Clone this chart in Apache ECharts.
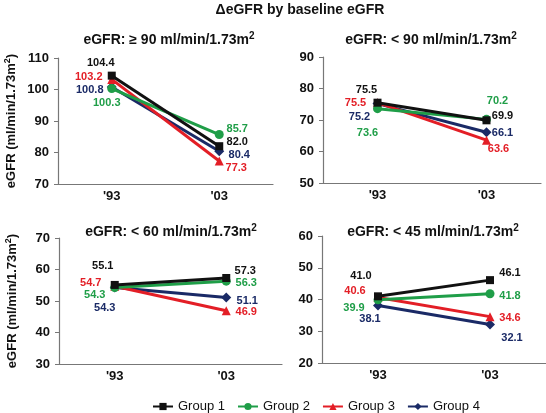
<!DOCTYPE html>
<html><head><meta charset="utf-8">
<script src="https://cdn.jsdelivr.net/npm/echarts@6/dist/echarts.min.js"></script>
<style>html,body{margin:0;padding:0;background:#fff}#c{width:546px;height:413px}</style>
</head><body><div id="c"></div>
<script>
const categories = ["'93", "'03"];
const groups = ['Group 1', 'Group 2', 'Group 3', 'Group 4'];
const panelTitles = ['eGFR: \u2265 90 ml/min/1.73m', 'eGFR: < 90 ml/min/1.73m', 'eGFR: < 60 ml/min/1.73m', 'eGFR: < 45 ml/min/1.73m'];
const unitSup = '2';
const yMins = [70, 50, 30, 20];
const yMaxs = [110, 90, 70, 60];
const yInterval = 10;
// values per panel: [group1, group2, group3, group4], each ['93, '03]
const panelGe90 = [[104.4, 82.0], [100.3, 85.7], [103.2, 77.3], [100.8, 80.4]];
const panelLt90 = [[75.5, 69.9], [73.6, 70.2], [75.5, 63.6], [75.2, 66.1]];
const panelLt60 = [[55.1, 57.3], [54.3, 56.3], [54.7, 46.9], [54.3, 51.1]];
const panelLt45 = [[41.0, 46.1], [39.9, 41.8], [40.6, 34.6], [38.1, 32.1]];
const panels = [panelGe90, panelLt90, panelLt60, panelLt45];

// layout / style (not data)
const colors = ['#111111', '#1f9e48', '#e31e26', '#1a2a66'];
const symbols = ['rect', 'circle', 'triangle', 'diamond'];
const symbolSizes = [8, 9, 9, 10];
const grids = [
  {left: 58, top: 58, width: 215, height: 126},
  {left: 323, top: 57, width: 218, height: 126},
  {left: 59, top: 238, width: 223, height: 126},
  {left: 322, top: 236, width: 224, height: 127}
];
const titlePos = [[169, 40], [431, 40], [171, 232], [433, 232]];
const labelOffsets = [
  [[[-11,-13],[18,-4]], [[-5,14],[18,-6]], [[-23,-2],[17,7]], [[-22,3],[20,4]]],
  [[[-11,-13],[16,-4]], [[-10,24],[11,-18]], [[-22,0],[12,9]], [[-18,13],[16,1]]],
  [[[-12,-19],[19,-7]], [[-20,8],[20,2]], [[-24,-3],[20,1]], [[-10,21],[21,3]]],
  [[[-17,-20],[20,-7]], [[-24,8],[20,2]], [[-23,-7],[20,1]], [[-8,13],[22,13]]]
];

const chart = echarts.init(document.getElementById('c'), null, {renderer: 'canvas'});
const font = 'Liberation Sans, Arial, Helvetica, sans-serif';
const axisColor = '#777';
const richTitle = {
  t: {fontSize: 14, fontWeight: 'bold', color: '#111', fontFamily: font, lineHeight: 18},
  s: {fontSize: 10, fontWeight: 'bold', color: '#111', fontFamily: font, verticalAlign: 'top', lineHeight: 18, padding: [0, 0, 6, 0]}
};

const option = {
  backgroundColor: '#fff',
  animation: false,
  textStyle: {fontFamily: font},
  title: [{
    text: '\u0394eGFR by baseline eGFR', left: 295, top: -2, textAlign: 'center',
    textStyle: {fontSize: 14, fontWeight: 'bold', color: '#111', fontFamily: font}
  }].concat(panelTitles.map((t, i) => ({
    text: '{t|' + t + '}{s|' + unitSup + '}', left: titlePos[i][0] - 5, top: titlePos[i][1] - 14, textAlign: 'center',
    textStyle: {rich: richTitle}
  }))),
  legend: {
    left: 147, top: 395, itemWidth: 20, itemHeight: 9, itemGap: 12,
    data: groups,
    textStyle: {fontSize: 13, color: '#111', fontFamily: font}
  },
  grid: grids.map(g => Object.assign({containLabel: false}, g)),
  xAxis: grids.map((g, i) => ({
    type: 'category', gridIndex: i, data: categories, boundaryGap: true,
    axisLine: {lineStyle: {color: axisColor, width: 1.2}},
    axisTick: {show: false},
    axisLabel: {fontSize: 13, fontWeight: 'bold', color: '#111', margin: 6, fontFamily: font}
  })),
  yAxis: grids.map((g, i) => ({
    type: 'value', gridIndex: i, min: yMins[i], max: yMaxs[i], interval: yInterval,
    name: (i % 2 === 0) ? '{t|eGFR (ml/min/1.73m}{s|' + unitSup + '}{t|)}' : '',
    nameLocation: 'middle', nameGap: 39, nameRotate: 90,
    nameTextStyle: {rich: {
      t: {fontSize: 13, fontWeight: 'bold', color: '#111', fontFamily: font, lineHeight: 16},
      s: {fontSize: 9, fontWeight: 'bold', color: '#111', fontFamily: font, verticalAlign: 'top', lineHeight: 16, padding: [0, 0, 5, 0]}
    }},
    splitLine: {show: false},
    axisLine: {show: true, lineStyle: {color: axisColor, width: 1.2}},
    axisTick: {show: true, inside: false, length: 4, lineStyle: {color: axisColor}},
    axisLabel: {fontSize: 13, fontWeight: 'bold', color: '#111', margin: 9, fontFamily: font}
  })),
  series: []
};

panels.forEach((panel, p) => {
  panel.forEach((vals, g) => {
    option.series.push({
      type: 'line', name: groups[g], xAxisIndex: p, yAxisIndex: p,
      symbol: symbols[g], symbolSize: symbolSizes[g],
      z: 10 - g,
      lineStyle: {color: colors[g], width: 3},
      itemStyle: {color: colors[g]},
      data: vals.map((v, k) => ({
        value: v,
        label: {
          show: true, position: 'inside', offset: labelOffsets[p][g][k],
          formatter: v.toFixed(1), color: colors[g], fontSize: 11, fontWeight: 'bold', fontFamily: font
        }
      }))
    });
  });
});

chart.setOption(option);
</script>
</body></html>
